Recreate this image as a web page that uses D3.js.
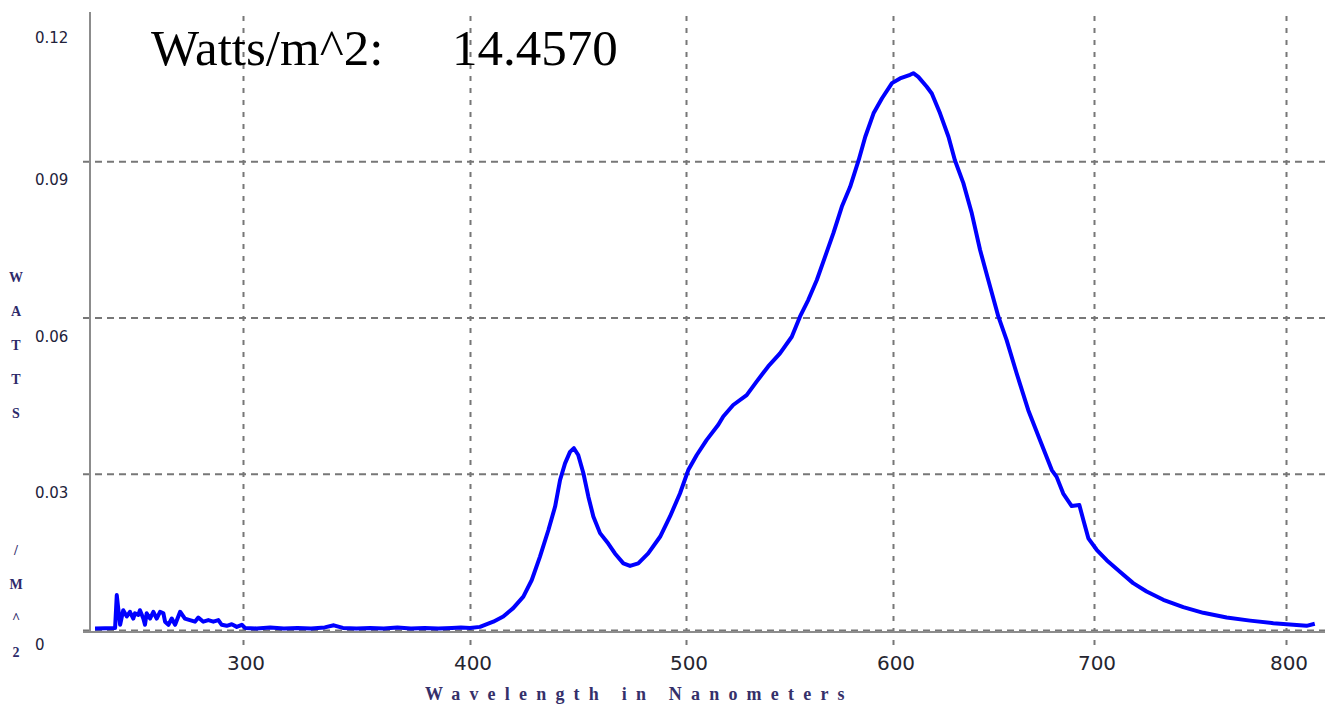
<!DOCTYPE html>
<meta charset="utf-8">
<head>
    <title>Spectrum - Watts/m^2</title>
    <style>
        html, body {
            margin: 0;
            width: 100%;
            height: 100%;
            background: #fff;
        }
        svg { display: block; }
        .grid line {
            stroke: #777;
            stroke-width: 2;
        }
        .grid-x line { stroke-dasharray: 5,7; }
        .grid-y line { stroke-dasharray: 7,5; }
        .grid .domain { display: none; }
        .frame {
            stroke: #8c8c8c;
            stroke-width: 2;
        }
        .x-labels text {
            font-family: "DejaVu Sans", sans-serif;
            font-size: 20px;
            fill: #252530;
        }
        .y-labels text {
            font-family: "DejaVu Sans", sans-serif;
            font-size: 15px;
            fill: #22223a;
        }
        .title {
            font-family: "Liberation Serif", "Times New Roman", serif;
            font-size: 51px;
            fill: #000;
        }
        .x-title {
            font-family: "Liberation Serif", serif;
            font-size: 18px;
            font-weight: bold;
            letter-spacing: 9.2px;
            fill: #35306a;
        }
        .y-title text {
            font-family: "Liberation Serif", serif;
            font-size: 14px;
            font-weight: bold;
            fill: #2e2a6a;
        }
        .spectrum {
            fill: none;
            stroke: #0000ff;
            stroke-width: 4;
            stroke-linejoin: round;
        }
    </style>
</head>
<body>
    <svg width="1325" height="715"></svg>
    <script src="https://cdn.jsdelivr.net/npm/d3@7"></script>
    <script>
        // readings
        const wavelengthNm = [
            238.1, 246.5, 247.2, 247.8, 248.6, 249.9, 251.4, 252.7, 254.1, 254.8,
            256.2, 256.9, 258.3, 259.0, 259.7, 261.1, 262.5, 263.9, 265.3, 266.7,
            267.4, 268.8, 270.2, 271.6, 273.7, 275.7, 277.8, 279.9, 281.3, 283.4,
            285.5, 287.6, 289.7, 291.1, 293.2, 295.3, 297.4, 299.5, 300.9,
            306, 312, 318, 324, 330, 336, 340, 344, 350, 356, 362, 368, 374, 380,
            386, 392, 396, 400, 404.6, 410.8, 415.4, 420.0, 424.7, 428.6, 432.4,
            436.3, 439.4, 441.7, 444.0, 446.3, 448.1, 450.1, 452.5, 454.8, 457.1,
            460.2, 464.0, 467.1, 471.0, 474.1, 477.9, 482.5, 488.0, 492.6, 497.2,
            501.1, 505.2, 510.0, 515.6, 518.0, 522.8, 529.3, 534.1, 539.7, 545.4,
            551.1, 555.1, 559.1, 563.2, 567.2, 571.2, 575.3, 579.3, 583.4, 586.6,
            590.6, 594.7, 599.5, 603.5, 608.5, 610.1, 612.6, 616.8, 619.3, 623.4,
            627.6, 630.8, 635.0, 639.2, 643.3, 647.4, 652.4, 656.5, 661.5, 667.3,
            673.1, 679.0, 681.4, 684.7, 688.9, 692.7, 694.7, 697.2, 701.4, 706.6,
            713.5, 720.4, 727.4, 736.1, 746.5, 756.9, 769.1, 781.3, 793.4, 803.8,
            810.8, 815.1
        ];

        const wattsPerM2 = [
            0.0003, 0.0004, 0.0067, 0.0042, 0.0010, 0.0038, 0.0026, 0.0035, 0.0022, 0.0032,
            0.0029, 0.0038, 0.0022, 0.0010, 0.0032, 0.0022, 0.0035, 0.0022, 0.0035, 0.0032,
            0.0016, 0.0010, 0.0022, 0.0010, 0.0035, 0.0022, 0.0019, 0.0016, 0.0024, 0.0016,
            0.0019, 0.0016, 0.0019, 0.0010, 0.0008, 0.0011, 0.0006, 0.0010, 0.0004,
            0.0003, 0.0005, 0.0003, 0.0004, 0.0003, 0.0005, 0.0009, 0.0004, 0.0003, 0.0004,
            0.0003, 0.0005, 0.0003, 0.0004, 0.0003, 0.0004, 0.0005, 0.0004, 0.0006, 0.0016,
            0.0026, 0.0042, 0.0064, 0.0096, 0.0141, 0.0192, 0.0237, 0.0288, 0.0320, 0.0342,
            0.0349, 0.0336, 0.0301, 0.0256, 0.0218, 0.0186, 0.0166, 0.0147, 0.0128, 0.0123,
            0.0128, 0.0147, 0.0179, 0.0218, 0.0262, 0.0307, 0.0336, 0.0365, 0.0394, 0.0410,
            0.0432, 0.0451, 0.0477, 0.0506, 0.0531, 0.0563, 0.0602, 0.0634, 0.0672, 0.0717,
            0.0762, 0.0813, 0.0851, 0.0902, 0.0947, 0.0992, 0.1021, 0.1050, 0.1059, 0.1066,
            0.1069, 0.1062, 0.1043, 0.1030, 0.0992, 0.0947, 0.0902, 0.0858, 0.0800, 0.0730,
            0.0672, 0.0602, 0.0557, 0.0493, 0.0422, 0.0365, 0.0307, 0.0294, 0.0262, 0.0238,
            0.0240, 0.0211, 0.0176, 0.0154, 0.0134, 0.0112, 0.0090, 0.0074, 0.0058, 0.0044,
            0.0033, 0.0024, 0.0018, 0.0013, 0.0010, 0.0008, 0.0012
        ];

        const xTicks = [300, 400, 500, 600, 700, 800];
        const yTicks = [0, 0.03, 0.06, 0.09, 0.12];
        const yTickLabels = ['0', '0.03', '0.06', '0.09', '0.12'];
        const yGrid = [0, 0.03, 0.06, 0.09];

        const titleLabel = 'Watts/m^2:';
        const titleValue = '14.4570';
        const xTitle = 'Wavelength in Nanometers';
        const yTitle = ['W', 'A', 'T', 'T', 'S', ' ', ' ', ' ', '/', 'M', '^', '2'];

        let svg = d3.select('svg');

        // the instrument's wavelength axis is not linear in pixels
        let x = d3.scaleLinear()
                    .domain([236, 300, 400, 500, 600, 700, 800, 821])
                    .range([90, 243, 470, 686, 893, 1094, 1286, 1326]);

        let y = d3.scaleLinear()
                    .domain([0, 0.12])
                    .range([630, 5]);

        const plotTop = 12, axisY = 632, left = 90, right = 1325;

        // grid
        svg.append('g')
            .attr('class', 'grid grid-x')
            .attr('transform', 'translate(0,' + 645 + ')')
            .call(d3.axisBottom(x).tickValues(xTicks).tickSize(-(645 - plotTop)).tickFormat(''));

        svg.append('g')
            .attr('class', 'grid grid-y')
            .attr('transform', 'translate(' + 83 + ',0)')
            .call(d3.axisLeft(y).tickValues(yGrid).tickSize(-(right - 83)).tickFormat(''));

        // frame
        svg.append('line').attr('class', 'frame')
            .attr('x1', left).attr('x2', left).attr('y1', plotTop).attr('y2', axisY);
        svg.append('line').attr('class', 'frame')
            .attr('x1', 83).attr('x2', right).attr('y1', axisY).attr('y2', axisY);

        // tick labels
        svg.append('g').attr('class', 'x-labels')
            .selectAll('text')
            .data(xTicks)
            .enter()
            .append('text')
            .attr('x', d => x(d) + 3)
            .attr('y', 670)
            .attr('text-anchor', 'middle')
            .text(d => d);

        svg.append('g').attr('class', 'y-labels')
            .selectAll('text')
            .data(yTicks)
            .enter()
            .append('text')
            .attr('x', 35)
            .attr('y', d => Math.min(Math.max(y(d) + 24, 43), 650))
            .text((d, i) => yTickLabels[i]);

        // spectrum
        let line = d3.line()
                    .x(d => x(d[0]))
                    .y(d => y(d[1]));

        svg.append('path')
            .attr('class', 'spectrum')
            .attr('d', line(d3.zip(wavelengthNm, wattsPerM2)));

        // titles
        svg.append('text').attr('class', 'title')
            .attr('x', 151).attr('y', 65).text(titleLabel);
        svg.append('text').attr('class', 'title')
            .attr('x', 452).attr('y', 65).text(titleValue);

        svg.append('text').attr('class', 'x-title')
            .attr('x', 425).attr('y', 700).text(xTitle);

        svg.append('g').attr('class', 'y-title')
            .selectAll('text')
            .data(yTitle)
            .enter()
            .append('text')
            .attr('x', 16)
            .attr('y', (d, i) => 282 + i * 34.1)
            .attr('text-anchor', 'middle')
            .text(d => d);
    </script>
</body>
</html>
